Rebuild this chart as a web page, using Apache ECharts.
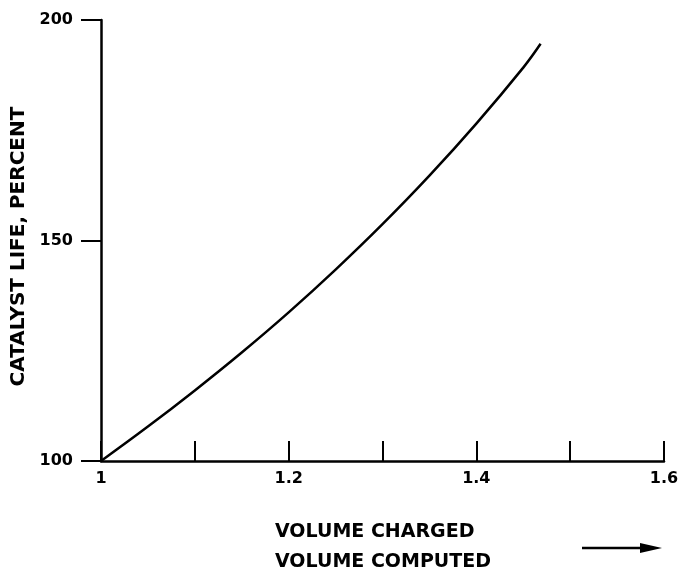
<!DOCTYPE html>
<html>
<head>
<meta charset="utf-8">
<script src="https://cdn.jsdelivr.net/npm/echarts@6/dist/echarts.min.js"></script>
<style>html,body{margin:0;padding:0;background:#fff}#c{width:683px;height:572px}</style>
</head>
<body>
<div id="c"></div>
<script>
// Data
const volumeRatio = [1.0, 1.05, 1.1, 1.15, 1.2, 1.25, 1.3, 1.35, 1.4, 1.45, 1.4685];
const catalystLife = [100, 107.8, 116.0, 124.6, 133.7, 143.4, 153.7, 164.7, 176.5, 189.2, 194.6];
const xLabelsShown = ['1', '1.2', '1.4', '1.6'];
const yTitle = 'CATALYST LIFE, PERCENT';
const xTitleTop = 'VOLUME CHARGED';
const xTitleBottom = 'VOLUME COMPUTED';

const FONT = 'DejaVu Sans';
const chart = echarts.init(document.getElementById('c'), null, {renderer: 'canvas'});
chart.setOption({
  animation: false,
  backgroundColor: '#fff',
  grid: {left: 101, right: 19, top: 20, bottom: 111},
  xAxis: {
    type: 'value', min: 1, max: 1.6, interval: 0.1,
    axisLine: {lineStyle: {color: '#000', width: 2.5}},
    axisTick: {inside: true, length: 20, lineStyle: {color: '#000', width: 2}},
    splitLine: {show: false},
    axisLabel: {
      margin: 10, color: '#000', fontFamily: FONT, fontWeight: 'bold', fontSize: 16,
      formatter: function (v) {
        const s = String(Math.round(v * 10) / 10);
        return xLabelsShown.indexOf(s) >= 0 ? s : '';
      }
    }
  },
  yAxis: {
    type: 'value', min: 100, max: 200, interval: 50,
    axisLine: {lineStyle: {color: '#000', width: 2.5}},
    axisTick: {inside: false, length: 20, lineStyle: {color: '#000', width: 2}},
    splitLine: {show: false},
    axisLabel: {margin: 28, color: '#000', fontFamily: FONT, fontWeight: 'bold', fontSize: 16}
  },
  series: [{
    type: 'line',
    data: volumeRatio.map((x, i) => [x, catalystLife[i]]),
    smooth: 0.4, showSymbol: false,
    lineStyle: {color: '#000', width: 2.5}
  }],
  graphic: [
    {type: 'text', x: 18.5, y: 246.5, rotation: Math.PI / 2,
     style: {text: yTitle, fill: '#000', font: 'bold 20px "DejaVu Sans"', align: 'center', verticalAlign: 'middle'}},
    {type: 'text', x: 275, y: 532,
     style: {text: xTitleTop, fill: '#000', font: 'bold 19px "DejaVu Sans"', align: 'left', verticalAlign: 'middle'}},
    {type: 'text', x: 275, y: 562,
     style: {text: xTitleBottom, fill: '#000', font: 'bold 19px "DejaVu Sans"', align: 'left', verticalAlign: 'middle'}},
    {type: 'line', shape: {x1: 582, y1: 548, x2: 645, y2: 548}, style: {stroke: '#000', lineWidth: 2.5}},
    {type: 'polygon', shape: {points: [[640, 543], [662, 548], [640, 553]]}, style: {fill: '#000'}}
  ]
});
</script>
</body>
</html>
